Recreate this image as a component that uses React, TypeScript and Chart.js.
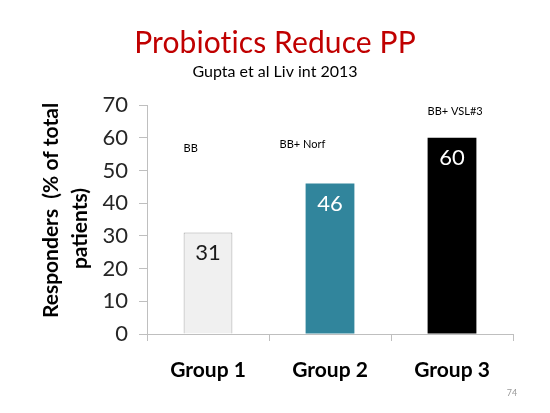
import React, { useEffect, useRef } from "react";
import { Chart, registerables } from "chart.js";

Chart.register(...registerables);

const categories = ["Group 1", "Group 2", "Group 3"];
const responders = [31, 46, 60];
const barColors = ["#f0f0f0", "#31859c", "#000000"];
const barBorders = ["#a6a6a6", "#31859c", "#000000"];
const valueLabelColors = ["#1a1a1a", "#ffffff", "#ffffff"];
const armLabels = ["BB", "BB+ Norf", "BB+ VSL#3"];
const yTicks = [0, 10, 20, 30, 40, 50, 60, 70];

const titleText = "Probiotics Reduce PP";
const subtitleText = "Gupta et al Liv int 2013";
const yTitleLines = ["Responders  (% of total", "patients)"];
const pageNumber = "74";

// layout of the free-floating arm labels: x offset from bar left (px), y in data units
const armLabelPlacement = [
  { dx: 0, yValue: 56.8 },
  { dx: -26, yValue: 58.0 },
  { dx: 0, yValue: 67.9 },
];

const FONT = "Lato, 'Open Sans', sans-serif";

const textPlugin = {
  id: "slideText",
  afterDatasetsDraw(chart: any) {
    const ctx = chart.ctx;
    const meta = chart.getDatasetMeta(0);
    const yScale = chart.scales.y;
    ctx.save();
    // value labels inside bars
    ctx.textAlign = "center";
    ctx.textBaseline = "middle";
    ctx.font = `22px ${FONT}`;
    meta.data.forEach((bar: any, i: number) => {
      ctx.fillStyle = valueLabelColors[i];
      ctx.fillText(String(responders[i]), bar.x, bar.y + 20);
    });
    // arm labels
    ctx.textAlign = "left";
    ctx.font = `11px ${FONT}`;
    ctx.fillStyle = "#000000";
    meta.data.forEach((bar: any, i: number) => {
      const p = armLabelPlacement[i];
      const left = bar.x - bar.width / 2 + p.dx;
      ctx.fillText(armLabels[i], left, yScale.getPixelForValue(p.yValue));
    });
    ctx.restore();
  },
  afterDraw(chart: any) {
    const ctx = chart.ctx;
    const area = chart.chartArea;
    ctx.save();
    ctx.textAlign = "center";
    ctx.textBaseline = "middle";
    ctx.fillStyle = "#c00000";
    ctx.font = `30px ${FONT}`;
    try {
      (ctx as any).letterSpacing = "0.1px";
    } catch (e) {}
    ctx.fillText(titleText, 275, 43);
    try {
      (ctx as any).letterSpacing = "0px";
    } catch (e) {}
    ctx.fillStyle = "#000000";
    ctx.font = `16px ${FONT}`;
    ctx.fillText(subtitleText, 275, 72);
    // y axis title
    ctx.font = `bold 21px ${FONT}`;
    ctx.fillStyle = "#000000";
    const cy = (area.top + area.bottom) / 2;
    ctx.save();
    ctx.translate(51, cy - 9);
    ctx.rotate(-Math.PI / 2);
    ctx.fillText(yTitleLines[0], 0, 0);
    ctx.restore();
    ctx.save();
    ctx.translate(80, cy + 9);
    ctx.rotate(-Math.PI / 2);
    ctx.fillText(yTitleLines[1], 0, 0);
    ctx.restore();
    // page number
    ctx.font = `9px ${FONT}`;
    ctx.fillStyle = "#9a9a9a";
    ctx.fillText(pageNumber, 512, 393);
    ctx.restore();
  },
};

export default function App() {
  const ref = useRef<HTMLCanvasElement>(null);
  useEffect(() => {
    if (!ref.current) return;
    const chart = new Chart(ref.current, {
      type: "bar",
      data: {
        labels: categories,
        datasets: [
          {
            data: responders,
            backgroundColor: barColors,
            borderColor: barBorders,
            borderWidth: [1, 0, 0],
            barPercentage: 0.4,
            categoryPercentage: 1.0,
          },
        ],
      },
      options: {
        responsive: false,
        animation: false,
        layout: { padding: { top: 105, right: 37, bottom: 0, left: 0 } },
        plugins: {
          legend: { display: false },
          tooltip: { enabled: false },
          title: { display: false },
        },
        scales: {
          x: {
            grid: {
              offset: true,
              drawOnChartArea: false,
              drawTicks: true,
              tickLength: 7,
              color: "#bfbfbf",
            },
            border: { color: "#bfbfbf" },
            ticks: {
              font: { family: FONT, size: 21, weight: "bold" },
              color: "#000000",
              padding: 17,
            },
            afterFit: (s: any) => {
              s.height = 79;
            },
          },
          y: {
            min: 0,
            max: 70,
            afterBuildTicks: (s: any) => {
              s.ticks = yTicks.map((v) => ({ value: v }));
            },
            grid: {
              drawOnChartArea: false,
              drawTicks: true,
              tickLength: 8,
              color: "#bfbfbf",
            },
            border: { color: "#bfbfbf" },
            ticks: {
              font: { family: FONT, size: 22 },
              color: "#262626",
              padding: 11,
            },
            afterFit: (s: any) => {
              s.width = 147;
            },
          },
        },
      },
      plugins: [textPlugin],
    });
    return () => chart.destroy();
  }, []);
  return (
    <div style={{ position: "absolute", left: 0, top: 0, width: 550, height: 413, background: "#ffffff" }}>
      <canvas ref={ref} width={550} height={413} />
    </div>
  );
}
